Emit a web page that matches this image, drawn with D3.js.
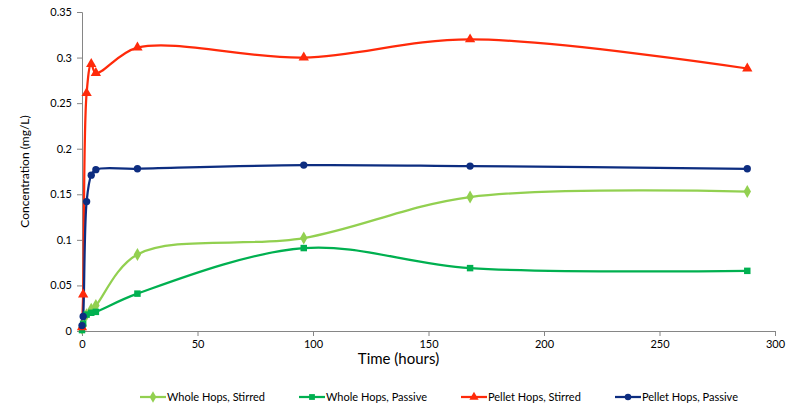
<!DOCTYPE html>
<html>
<head>
<meta charset="utf-8">
<script src="https://cdn.jsdelivr.net/npm/d3@7"></script>
<style>
  html, body { margin: 0; padding: 0; background: #fff; }
  svg { display: block; font-family: Lato, "Open Sans", sans-serif; }
</style>
</head>
<body>
<svg id="chart" width="804" height="409"></svg>
<script>
// Sampling times (hours)
const times = [0, 0.5, 2, 4, 6, 24, 96, 168, 288];

// Concentration (mg/L) per treatment
const wholeStirred  = [0.003, 0.006, 0.018, 0.024, 0.028, 0.084, 0.102, 0.147, 0.153];
const wholePassive  = [0.001, 0.008, 0.018, 0.020, 0.021, 0.041, 0.091, 0.069, 0.066];
const pelletStirred = [0.004, 0.040, 0.261, 0.293, 0.283, 0.311, 0.300, 0.320, 0.288];
const pelletPassive = [0.006, 0.016, 0.142, 0.171, 0.177, 0.178, 0.182, 0.181, 0.178];

const seriesNames = ["Whole Hops, Stirred", "Whole Hops, Passive", "Pellet Hops, Stirred", "Pellet Hops, Passive"];
const xTicks = [0, 50, 100, 150, 200, 250, 300];
const yTicks = [0, 0.05, 0.1, 0.15, 0.2, 0.25, 0.3, 0.35];

const series = [
  { name: seriesNames[0], values: wholeStirred,  color: "#92D050", marker: d3.symbolDiamond,  size: 48 },
  { name: seriesNames[1], values: wholePassive,  color: "#00B050", marker: d3.symbolSquare,   size: 42 },
  { name: seriesNames[2], values: pelletStirred, color: "#FF2A0A", marker: d3.symbolTriangle, size: 46 },
  { name: seriesNames[3], values: pelletPassive, color: "#0D2D80", marker: d3.symbolCircle,   size: 42 }
];

const svg = d3.select("#chart");
const axisColor = "#868686";
const plotLeft = 82, plotRight = 775, plotTop = 12, plotBottom = 331;

const x = d3.scaleLinear().domain([0, 300]).range([plotLeft, plotRight]);
const y = d3.scaleLinear().domain([0, 0.35]).range([plotBottom, plotTop]);

// Axes
const xAxis = svg.append("g")
  .attr("transform", `translate(0,${plotBottom})`)
  .call(d3.axisBottom(x).tickValues(xTicks).tickSize(5).tickPadding(4).tickFormat(d3.format("d")));
const yAxis = svg.append("g")
  .attr("transform", `translate(${plotLeft},0)`)
  .call(d3.axisLeft(y).tickValues(yTicks).tickSize(5).tickPadding(5).tickFormat(d => d === 0 ? "0" : String(+d.toFixed(2))));

[xAxis, yAxis].forEach(g => {
  g.select(".domain").attr("stroke", axisColor).attr("stroke-width", 1);
  g.selectAll(".tick line").attr("stroke", axisColor);
  g.selectAll(".tick text").attr("fill", "#000").style("font-size", "11px").style("font-family", "Lato, 'Open Sans', sans-serif");
});

// Axis titles
svg.append("text")
  .attr("x", (plotLeft + plotRight) / 2 - 30).attr("y", 364)
  .attr("text-anchor", "middle")
  .style("font-size", "15px")
  .style("font-weight", "400")
  .text("Time (hours)");

svg.append("text")
  .attr("transform", `translate(29,${(plotTop + plotBottom) / 2}) rotate(-90)`)
  .attr("text-anchor", "middle")
  .style("font-size", "12px")
  .text("Concentration (mg/L)");

// Smoothed lines with markers
const line = d3.line()
  .x((d, i) => x(times[i]))
  .y(d => y(d))
  .curve(d3.curveCatmullRom.alpha(0.5));

const plot = svg.append("g");
series.forEach(s => {
  plot.append("path")
    .attr("d", line(s.values))
    .attr("fill", "none")
    .attr("stroke", s.color)
    .attr("stroke-width", 2.25);
});
series.forEach(s => {
  plot.selectAll(null)
    .data(s.values)
    .join("path")
    .attr("transform", (d, i) => `translate(${x(times[i])},${y(d)})`)
    .attr("d", d3.symbol().type(s.marker).size(s.size))
    .attr("fill", s.color);
});

// Legend
const legendX = [140, 299, 461, 615];
const legend = svg.append("g").attr("transform", "translate(0,397)");
series.forEach((s, i) => {
  const g = legend.append("g").attr("transform", `translate(${legendX[i]},0)`);
  g.append("line").attr("x1", 0).attr("x2", 26).attr("y1", 0).attr("y2", 0)
    .attr("stroke", s.color).attr("stroke-width", 2.25);
  g.append("path").attr("transform", "translate(13,0)")
    .attr("d", d3.symbol().type(s.marker).size(s.size * 0.8))
    .attr("fill", s.color);
  g.append("text").attr("x", 27).attr("y", 4)
    .style("font-size", "11px")
    .text(s.name);
});
</script>
</body>
</html>
